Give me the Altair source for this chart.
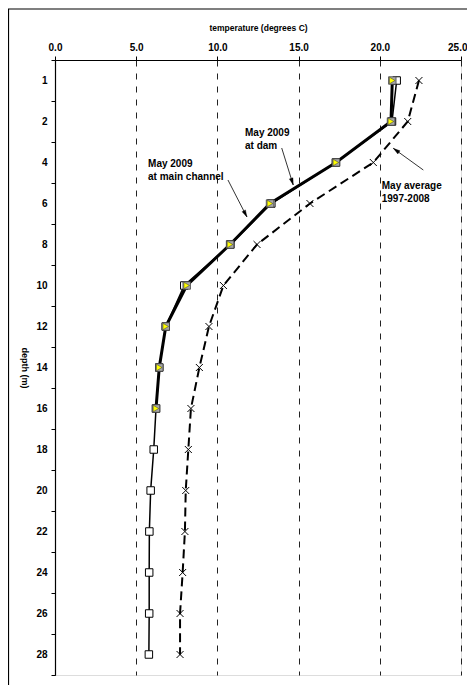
import altair as alt
import pandas as pd

depths = ["1", "2", "4", "6", "8", "10", "12", "14", "16", "18", "20", "22", "24", "26", "28"]
main_channel = [21.04, 20.75, 17.30, 13.32, 10.80, 7.96, 6.82, 6.42, 6.22, 6.08, 5.89, 5.81, 5.80, 5.80, 5.78]
dam_depths = ["1", "2", "4", "6", "8", "10", "12", "14", "16"]
dam = [20.77, 20.69, 17.30, 13.24, 10.78, 8.11, 6.82, 6.42, 6.22]
may_avg = [22.41, 21.72, 19.60, 15.70, 12.44, 10.37, 9.48, 8.89, 8.37, 8.21, 8.05, 8.00, 7.86, 7.70, 7.70]
x_ticks = [0, 5, 10, 15, 20, 25]

FONT = "Liberation Sans"
W, H = 406, 615

df_main = pd.DataFrame({"depth": depths, "temp": main_channel})
df_dam = pd.DataFrame({"depth": dam_depths, "temp": dam})
df_avg = pd.DataFrame({"depth": depths, "temp": may_avg})

x_enc = alt.X(
    "temp:Q",
    scale=alt.Scale(domain=[0, 25], nice=False, zero=True),
    axis=alt.Axis(
        orient="top", values=x_ticks, format=".1f", title="temperature (degrees C)",
        grid=True, gridColor="#222", gridDash=[6, 7], gridWidth=1,
        domainColor="black", domainWidth=1.2, tickColor="black", tickSize=4,
        labelFont=FONT, labelFontSize=10, labelFontWeight="bold", labelColor="black",
        labelPadding=4, labelFlush=False,
        labelAlign={"condition": {"test": "datum.value == 25", "value": "right"}, "value": "center"},
        labelOffset={"condition": {"test": "datum.value == 25", "value": 6}, "value": 0},
        titleFont=FONT, titleFontSize=8.5, titleFontWeight="bold", titleColor="black",
        titleX=W / 2, titleY=-33, titleBaseline="middle",
    ),
)
y_enc = alt.Y(
    "depth:O", sort=depths,
    scale=alt.Scale(type="band", paddingInner=0, paddingOuter=0),
    axis=alt.Axis(
        title="depth (m)", tickBand="extent", tickColor="black", tickSize=4,
        domainColor="black", domainWidth=1.2,
        labelFont=FONT, labelFontSize=10, labelFontWeight="bold", labelColor="black",
        labelPadding=4, labelAngle=0,
        titleFont=FONT, titleFontSize=9, titleFontWeight="bold", titleColor="black",
        titleAngle=90, titleX=-31, titleY=H / 2, titleAlign="center", titleBaseline="middle",
    ),
)

base_main = alt.Chart(df_main).encode(x=x_enc, y=y_enc)
base_dam = alt.Chart(df_dam).encode(x="temp:Q", y=alt.Y("depth:O", sort=depths))
base_avg = alt.Chart(df_avg).encode(x="temp:Q", y=alt.Y("depth:O", sort=depths))

avg_line = base_avg.mark_line(color="black", strokeWidth=2, strokeDash=[9, 5])
avg_pts = base_avg.mark_point(shape="M-1,-1L1,1M-1,1L1,-1", filled=False, stroke="black",
                              strokeWidth=1, size=49, opacity=1)
main_line = base_main.mark_line(color="black", strokeWidth=1.5)
dam_line = base_dam.mark_line(color="black", strokeWidth=3)
main_pts = base_main.mark_point(shape="square", filled=True, fill="white", stroke="black",
                                strokeWidth=1, size=56, opacity=1)
dam_sq = base_dam.mark_point(shape="square", filled=True, fill="#a8a8a8", stroke="#444",
                             strokeWidth=0.8, size=56, opacity=1)
dam_tri = base_dam.mark_point(shape="triangle-right", filled=True, fill="#ffff00", stroke="#333",
                              strokeWidth=0.5, size=42, opacity=1)

# annotations
ann_text = [
    ("May 2009\nat main channel", 5.73, 103.5),
    ("May 2009\nat dam", 11.70, 72.5),
    ("May average\n1997-2008", 20.12, 126),
]
arrows = [
    # x1, y1(px), x2, y2(px), angle
    (10.65, 120, 11.82, 157, 152.8),
    (13.96, 88, 14.67, 125, 162.6),
    (22.68, 110, 20.83, 88.3, 306),
]
layers = [avg_line, avg_pts, main_line, dam_line, main_pts, dam_sq, dam_tri]
for txt, tx, py in ann_text:
    layers.append(
        alt.Chart(pd.DataFrame({"temp": [tx], "label": [txt]})).mark_text(
            align="left", baseline="middle", font=FONT, fontSize=10, fontWeight="bold",
            color="black", lineBreak="\n", lineHeight=13,
        ).encode(x="temp:Q", y=alt.value(py), text="label:N")
    )
for x1, y1, x2, y2, ang in arrows:
    d = pd.DataFrame({"temp": [x1], "temp2": [x2]})
    layers.append(
        alt.Chart(d).mark_rule(color="black", strokeWidth=0.8).encode(
            x="temp:Q", x2="temp2:Q", y=alt.value(y1), y2=alt.value(y2))
    )
    layers.append(
        alt.Chart(pd.DataFrame({"temp": [x2]})).mark_point(
            shape="M0,0L0.55,2L-0.55,2Z", filled=True, fill="black", stroke="black",
            strokeWidth=0.3, size=49, opacity=1,
        ).encode(x="temp:Q", y=alt.value(y2), angle=alt.value(ang))
    )

# outer frame (top and left edges)
frame_top = alt.Chart(pd.DataFrame({"a": [0]})).mark_rule(color="black", strokeWidth=1.2).encode(
    x=alt.value(-47), x2=alt.value(413), y=alt.value(-51))
frame_left = alt.Chart(pd.DataFrame({"a": [0]})).mark_rule(color="black", strokeWidth=1.2).encode(
    x=alt.value(-46.5), y=alt.value(-51), y2=alt.value(630))
layers += [frame_top, frame_left]

chart = alt.layer(*layers).properties(
    width=W, height=H,
    autosize=alt.AutoSizeParams(type="none"),
    padding={"left": 47, "top": 52, "right": 6, "bottom": 10},
).configure_view(stroke="#999", strokeWidth=1.2).configure(background="white")

chart.save("out.html", embed_options={"renderer": "svg", "actions": False})
